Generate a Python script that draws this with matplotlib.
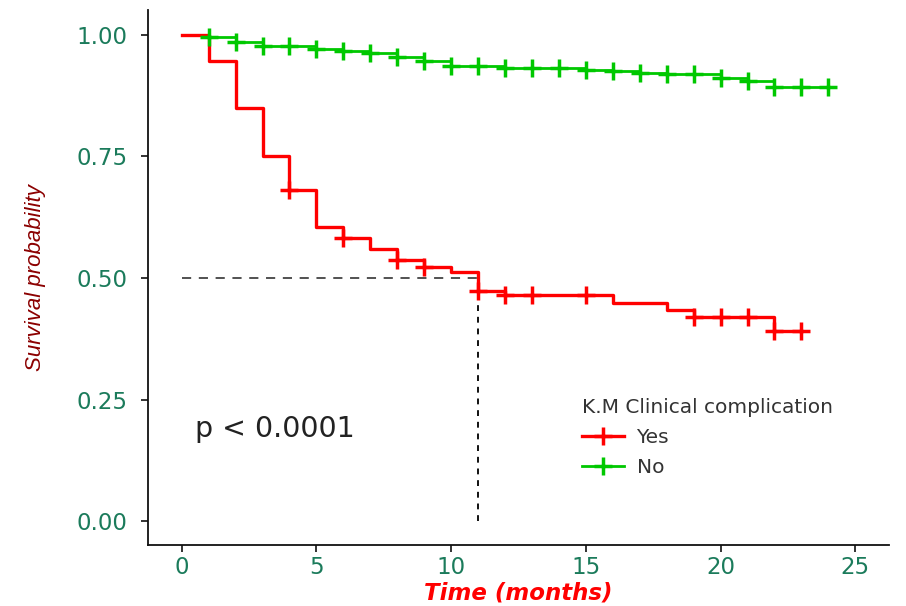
import matplotlib
matplotlib.use("Agg")
import matplotlib.pyplot as plt
from matplotlib.lines import Line2D
import numpy as np

# Kaplan-Meier estimates
yes_time = [0, 1, 2, 3, 4, 5, 6, 7, 8, 9, 10, 11, 12, 16, 18, 19, 22]
yes_surv = [1.0, 0.947, 0.849, 0.751, 0.681, 0.604, 0.582, 0.560, 0.537,
            0.523, 0.513, 0.473, 0.464, 0.449, 0.434, 0.420, 0.390]
yes_end = 23
yes_censor = [4, 6, 8, 9, 11, 12, 13, 15, 19, 20, 21, 22, 23]

no_time = [0, 1, 2, 3, 5, 6, 7, 8, 9, 10, 12, 15, 16, 17, 18, 20, 21, 22]
no_surv = [1.0, 0.995, 0.986, 0.976, 0.970, 0.966, 0.962, 0.955, 0.947,
           0.935, 0.932, 0.928, 0.925, 0.922, 0.919, 0.911, 0.906, 0.893]
no_end = 24
no_censor = [1, 2, 3, 4, 5, 6, 7, 8, 9, 10, 11, 12, 13, 14, 15, 16, 17,
             18, 19, 20, 21, 22, 23, 24]

median_time = 11
p_text = "p < 0.0001"
legend_title = "K.M Clinical complication"
groups = ["Yes", "No"]

RED = "#FF0000"
GREEN = "#00C800"
TICK_COL = "#1b7b5b"


def surv_at(times, surv, t):
    i = np.searchsorted(times, t, side="right") - 1
    return surv[i]


fig = plt.figure(figsize=(9.06, 6.06), dpi=100)
ax = fig.add_axes([0.1634, 0.1007, 0.8178, 0.8828])

for times, surv, end, cens, col, lw in [
        (no_time, no_surv, no_end, no_censor, GREEN, 2.0),
        (yes_time, yes_surv, yes_end, yes_censor, RED, 2.4)]:
    tx = list(times) + [end]
    sy = list(surv) + [surv[-1]]
    ax.step(tx, sy, where="post", color=col, lw=lw, zorder=3)
    cy = [surv_at(times, surv, c) for c in cens]
    ax.plot(cens, cy, ls="none", marker="+", ms=13, mew=2.5, color=col,
            zorder=4)

# median survival reference lines
ax.plot([0, median_time], [0.5, 0.5], color="#222222", lw=1.1,
        dashes=(6, 5), zorder=2)
ax.plot([median_time, median_time], [0, 0.5], color="#111111", lw=1.4,
        dashes=(3, 3), zorder=2)

ax.text(0.5, 0.19, p_text, fontsize=20.5, color="#222222", va="center",
        ha="left")

ax.set_xlim(-1.25, 26.25)
ax.set_ylim(-0.049, 1.051)
ax.set_xticks([0, 5, 10, 15, 20, 25])
ax.set_yticks([0, 0.25, 0.5, 0.75, 1.0])
ax.set_yticklabels(["0.00", "0.25", "0.50", "0.75", "1.00"])
for s in ["top", "right"]:
    ax.spines[s].set_visible(False)
for s in ["left", "bottom"]:
    ax.spines[s].set_linewidth(1.3)
    ax.spines[s].set_color("#111111")
ax.tick_params(axis="both", length=5, width=1.2, color="#111111",
               labelsize=16.5, labelcolor=TICK_COL)
ax.tick_params(axis="y", pad=10)
ax.tick_params(axis="x", pad=3)

ax.set_xlabel("Time (months)", fontsize=16.5, color=RED, fontweight="bold",
              style="italic", va="center")
ax.xaxis.set_label_coords(0.5, -0.09)
ax.set_ylabel("Survival probability", fontsize=16, color="#8B0000",
              style="italic",
              family=["Liberation Sans Narrow", "Liberation Sans",
                      "DejaVu Sans"],
              va="center")
ax.yaxis.set_label_coords(-0.152, 0.5)

handles = [Line2D([], [], color=RED, lw=2.4, marker="+", ms=13, mew=2.5),
           Line2D([], [], color=GREEN, lw=2.0, marker="+", ms=13, mew=2.5)]
leg = ax.legend(handles, groups, title=legend_title, loc="upper left",
                bbox_to_anchor=(0.575, 0.29), frameon=False, fontsize=14.5,
                title_fontsize=14.5, handlelength=2.1, labelspacing=0.55,
                borderaxespad=0, handletextpad=0.6)
leg._legend_box.align = "left"
leg.get_title().set_color("#333333")
for t in leg.get_texts():
    t.set_color("#333333")

fig.savefig("out.png", dpi=100)
